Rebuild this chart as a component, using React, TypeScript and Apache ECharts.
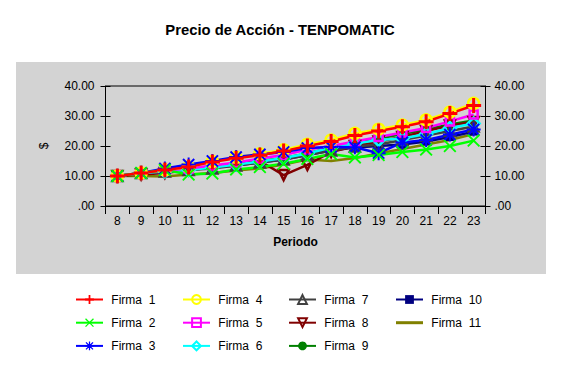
import React, { useEffect, useRef } from "react";
import * as echarts from "echarts";

const periods = ["8", "9", "10", "11", "12", "13", "14", "15", "16", "17", "18", "19", "20", "21", "22", "23"];
const seriesNames = ["Firma  1", "Firma  2", "Firma  3", "Firma  4", "Firma  5", "Firma  6", "Firma  7", "Firma  8", "Firma  9", "Firma  10", "Firma  11"];

const firma1 = [10, 11, 12, 13, 14.7, 15.9, 16.9, 18.3, 20, 21.5, 23.5, 25, 26.4, 28.1, 30.8, 33.5];
const firma2 = [10, 11, 12, 10.5, 10.8, 12.2, 13, 14.1, 15.7, 17.3, 16.2, 17, 18, 18.8, 20, 21.8];
const firma3 = [10, 11, 12.5, 13.8, 15, 16.3, 17.2, 18, 19.3, 19.7, 19.6, 17.6, 21.2, 22, 23.8, 25.5];
const firma4 = [10, 11, 12, 13, 14.8, 16.2, 17.4, 18.7, 20.6, 22, 24.2, 25.6, 27, 28.7, 31.3, 34.2];
const firma5 = [10, 11, 11.8, 12.5, 13.5, 14.5, 15.8, 17, 18.8, 20, 21.5, 23, 24.5, 26, 28.2, 30.5];
const firma6 = [10, 11, 11.5, 12, 12.8, 13.8, 14.8, 16, 17.5, 19.5, 20.8, 22, 22.5, 24, 26, 27.5];
const firma7 = [10, 11, 11.5, 12, 12.5, 13.5, 14.5, 15.5, 17, 18.5, 19.8, 20.5, 22, 23.5, 25, 26.5];
const firma8 = [10, 10.5, 11, 12, 13, 14, 15, 10.3, 13.7, 18, 20, 21.5, 23, 25, 26.8, 28];
const firma9 = [10, 11, 11.5, 12, 12.8, 13.8, 15, 16, 17.5, 19.5, 21, 22.5, 24, 25.5, 27.2, 28.5];
const firma10 = [10, 10.8, 11.3, 12, 12.8, 13.5, 14.5, 15.5, 17, 18.5, 19.5, 20, 20.5, 21.5, 23, 24.8];
const firma11 = [10, 10, 9.8, 10.5, 11, 11.8, 12.5, 13.8, 15.5, 15, 16, 17.5, 19, 20.5, 22, 24];

const yTicks = [0, 10, 20, 30, 40];

const PLUS = "path://M4,0H6V4H10V6H6V10H4V6H0V4H4Z";
const CROSS = "path://M0,1L1,0L5,4L9,0L10,1L6,5L10,9L9,10L5,6L1,10L0,9L4,5Z";
const STAR = "path://M4.3,0H5.7V4.3H10V5.7H5.7V10H4.3V5.7H0V4.3H4.3Z M0.5,1.5L1.5,0.5L5,4L8.5,0.5L9.5,1.5L6,5L9.5,8.5L8.5,9.5L5,6L1.5,9.5L0.5,8.5L4,5Z";
const BAR = "path://M0,0H27V3H0Z";

export default function App() {
  const ref = useRef<HTMLDivElement>(null);
  useEffect(() => {
    if (!ref.current) return;
    const chart = echarts.init(ref.current, null, { renderer: "svg" });

    const mk = (name: string, data: number[], color: string, symbol: string, size: number, hollow: boolean, extra: any = {}) => ({
      name,
      type: "line",
      data,
      symbol,
      symbolSize: size,
      showSymbol: symbol !== "none",
      lineStyle: { color, width: 2.5 },
      itemStyle: hollow
        ? { color: "rgba(0,0,0,0)", borderColor: color, borderWidth: 2.5 }
        : { color, borderWidth: 0 },
      emphasis: { disabled: true },
      ...extra,
    });

    const series = [
      mk(seriesNames[10], firma11, "#808000", "none", 0, false),
      mk(seriesNames[9], firma10, "#000080", "rect", 8, false),
      mk(seriesNames[8], firma9, "#008000", "circle", 9, false),
      mk(seriesNames[7], firma8, "#800000", "triangle", 10, true, { symbolRotate: 180 }),
      mk(seriesNames[6], firma7, "#404040", "triangle", 10, true),
      mk(seriesNames[5], firma6, "#00ffff", "diamond", 12, true),
      mk(seriesNames[4], firma5, "#ff00ff", "rect", 8, true),
      mk(seriesNames[3], firma4, "#ffff00", "circle", 11, true),
      mk(seriesNames[2], firma3, "#0000ff", STAR, 14, false),
      mk(seriesNames[1], firma2, "#00ff00", CROSS, 13, false),
      mk(seriesNames[0], firma1, "#ff0000", PLUS, 15, false),
    ];

    const legendBase = {
      orient: "vertical",
      top: 293.5,
      itemWidth: 27,
      itemHeight: 11,
      itemGap: 11.2,
      padding: 0,
      selectedMode: false,
      formatter: (n: string) => " " + n,
      textStyle: { fontFamily: "Arial, Liberation Sans", fontSize: 12, color: "#000" },
    };

    const axisFont = { fontFamily: "Arial, Liberation Sans", fontSize: 12, color: "#000" };
    const yLabel = (v: number) => (v === 0 ? ".00" : v.toFixed(2));

    chart.setOption({
      animation: false,
      backgroundColor: "#ffffff",
      title: {
        text: "Precio de Acción - TENPOMATIC",
        left: 280,
        top: 22,
        padding: 0,
        textAlign: "center",
        textStyle: { fontFamily: "Arial, Liberation Sans", fontSize: 14.8, fontWeight: "bold", color: "#000" },
      },
      graphic: [
        {
          type: "rect",
          z: -10,
          shape: { x: 16, y: 62, width: 530, height: 212 },
          style: { fill: "#d3d3d3" },
        },
      ],
      grid: {
        left: 105.5,
        right: 76.5,
        top: 86,
        bottom: 166,
        show: true,
        borderColor: "#000",
        borderWidth: 1,
        backgroundColor: "transparent",
      },
      legend: [
        { ...legendBase, left: 75, data: [seriesNames[0], seriesNames[1], seriesNames[2]] },
        { ...legendBase, left: 182, data: [seriesNames[3], seriesNames[4], seriesNames[5]] },
        { ...legendBase, left: 288, data: [seriesNames[6], seriesNames[7], seriesNames[8]] },
        { ...legendBase, left: 395, data: [seriesNames[9], { name: seriesNames[10], icon: BAR }] },
      ],
      xAxis: {
        type: "category",
        data: periods,
        boundaryGap: true,
        name: "Periodo",
        nameLocation: "middle",
        nameGap: 30,
        nameTextStyle: { ...axisFont, fontWeight: "bold" },
        axisLine: { lineStyle: { color: "#000", width: 1 } },
        axisTick: { show: true, length: 8, alignWithLabel: false, lineStyle: { color: "#000" } },
        axisLabel: { ...axisFont, margin: 9, interval: 0 },
        splitLine: { show: false },
      },
      yAxis: [
        {
          type: "value",
          min: yTicks[0],
          max: yTicks[yTicks.length - 1],
          interval: 10,
          position: "left",
          name: "$",
          nameLocation: "middle",
          nameGap: 56,
          nameRotate: 90,
          nameTextStyle: { ...axisFont },
          axisLine: { show: true, lineStyle: { color: "#000" } },
          axisTick: { show: true, length: 5, lineStyle: { color: "#000" } },
          axisLabel: { ...axisFont, margin: 11, formatter: yLabel },
          splitLine: { show: false },
        },
        {
          type: "value",
          min: yTicks[0],
          max: yTicks[yTicks.length - 1],
          interval: 10,
          position: "right",
          axisLine: { show: true, lineStyle: { color: "#000" } },
          axisTick: { show: true, length: 5, lineStyle: { color: "#000" } },
          axisLabel: { ...axisFont, margin: 9, formatter: yLabel },
          splitLine: { show: false },
        },
        {
          type: "value",
          min: yTicks[0],
          max: yTicks[yTicks.length - 1],
          interval: 10,
          position: "left",
          axisLine: { show: false },
          axisTick: { show: true, inside: true, length: 5, lineStyle: { color: "#000" } },
          axisLabel: { show: false },
          splitLine: { show: false },
        },
        {
          type: "value",
          min: yTicks[0],
          max: yTicks[yTicks.length - 1],
          interval: 10,
          position: "right",
          axisLine: { show: false },
          axisTick: { show: true, inside: true, length: 5, lineStyle: { color: "#000" } },
          axisLabel: { show: false },
          splitLine: { show: false },
        },
      ],
      series,
    });
    return () => chart.dispose();
  }, []);
  return <div ref={ref} style={{ position: "fixed", left: 0, top: 0, width: 562, height: 372 }} />;
}
